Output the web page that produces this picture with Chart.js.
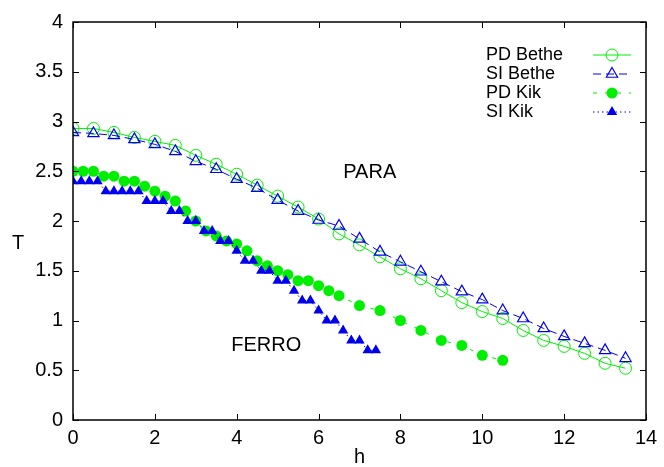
<!DOCTYPE html>
<html>
<head>
<meta charset="utf-8">
<script src="https://cdn.jsdelivr.net/npm/chart.js@4"></script>
<style>
  html, body { margin: 0; padding: 0; background: #fff; }
  #wrap { width: 664px; height: 467px; }
</style>
</head>
<body>
<div id="wrap"><canvas id="chart" width="664" height="467"></canvas></div>
<script>
// Bethe approximation, h every 0.5
const hBethe = [0, 0.5, 1, 1.5, 2, 2.5, 3, 3.5, 4, 4.5, 5, 5.5, 6, 6.5, 7, 7.5, 8, 8.5, 9, 9.5, 10, 10.5, 11, 11.5, 12, 12.5, 13, 13.5];
const pdBethe = [2.93, 2.93, 2.89, 2.84, 2.80, 2.76, 2.66, 2.57, 2.47, 2.36, 2.25, 2.14, 2.02, 1.87, 1.76, 1.64, 1.52, 1.42, 1.30, 1.18, 1.09, 1.02, 0.90, 0.80, 0.74, 0.67, 0.57, 0.52];
const siBethe = [2.89, 2.88, 2.86, 2.82, 2.77, 2.70, 2.60, 2.52, 2.42, 2.33, 2.21, 2.10, 2.01, 1.95, 1.82, 1.69, 1.59, 1.49, 1.39, 1.29, 1.21, 1.10, 1.02, 0.92, 0.84, 0.77, 0.70, 0.62];

// Kikuchi
const hPdKik = [0, 0.25, 0.5, 0.75, 1, 1.25, 1.5, 1.75, 2, 2.25, 2.5, 2.75, 3, 3.25, 3.5, 3.75, 4, 4.25, 4.5, 4.75, 5, 5.25, 5.5, 5.75, 6, 6.25, 6.5, 7, 7.5, 8, 8.5, 9, 9.5, 10, 10.5];
const pdKik = [2.5, 2.5, 2.5, 2.45, 2.45, 2.4, 2.4, 2.35, 2.3, 2.25, 2.2, 2.1, 2.0, 1.9, 1.85, 1.8, 1.77, 1.7, 1.6, 1.55, 1.5, 1.46, 1.4, 1.4, 1.35, 1.3, 1.25, 1.15, 1.1, 1.0, 0.9, 0.8, 0.75, 0.65, 0.6];
const hSiKik = [0, 0.2, 0.4, 0.6, 0.8, 1.0, 1.2, 1.4, 1.6, 1.8, 2.0, 2.2, 2.4, 2.6, 2.8, 3.0, 3.2, 3.4, 3.6, 3.8, 4.0, 4.2, 4.4, 4.6, 4.8, 5.0, 5.2, 5.4, 5.6, 5.8, 6.0, 6.2, 6.4, 6.6, 6.8, 7.0, 7.2, 7.4];
const siKik = [2.4, 2.4, 2.4, 2.4, 2.3, 2.3, 2.3, 2.3, 2.3, 2.2, 2.2, 2.2, 2.1, 2.1, 2.0, 2.0, 1.9, 1.9, 1.8, 1.8, 1.7, 1.6, 1.6, 1.5, 1.5, 1.4, 1.4, 1.3, 1.2, 1.2, 1.1, 1.0, 1.0, 0.9, 0.8, 0.8, 0.7, 0.7];

const xTicks = [0, 2, 4, 6, 8, 10, 12, 14];
const yTicks = [0, 0.5, 1, 1.5, 2, 2.5, 3, 3.5, 4];

const GREEN = '#00ee00';
const BLUE = '#0000ee';
const FONT = '"Liberation Sans", Arial, sans-serif';

const pts = (xs, ys) => xs.map((v, i) => ({ x: v, y: ys[i] }));

const datasets = [
  { label: 'PD Bethe', data: pts(hBethe, pdBethe), borderColor: GREEN, backgroundColor: 'rgba(0,0,0,0)',
    borderWidth: 1, pointStyle: 'circle', pointRadius: 6, pointBorderWidth: 1, order: 3 },
  { label: 'SI Bethe', data: pts(hBethe, siBethe), borderColor: BLUE, backgroundColor: 'rgba(0,0,0,0)',
    borderWidth: 1, borderDash: [8, 5], pointStyle: 'triangle', pointRadius: 6.5, pointBorderWidth: 1.2, order: 2 },
  { label: 'PD Kik', data: pts(hPdKik, pdKik), borderColor: GREEN, backgroundColor: GREEN,
    borderWidth: 1, borderDash: [4, 8], pointStyle: 'circle', pointRadius: 5.5, pointBorderWidth: 0, order: 1 },
  { label: 'SI Kik', data: pts(hSiKik, siKik), borderColor: BLUE, backgroundColor: BLUE,
    borderWidth: 1, borderDash: [1.5, 3], pointStyle: 'triangle', pointRadius: 6, pointBorderWidth: 0, order: 0 }
];

// frame, inward ticks, axis titles, region labels, legend
const decor = {
  id: 'decor',
  afterDatasetsDraw(chart) {
    const { ctx, chartArea: a, scales: { x, y } } = chart;
    ctx.save();
    ctx.strokeStyle = '#000';
    ctx.lineWidth = 1;
    ctx.setLineDash([]);
    ctx.beginPath();
    xTicks.forEach(v => {
      const px = Math.round(x.getPixelForValue(v)) + 0.5;
      ctx.moveTo(px, a.bottom); ctx.lineTo(px, a.bottom - 6);
      ctx.moveTo(px, a.top); ctx.lineTo(px, a.top + 6);
    });
    yTicks.forEach(v => {
      const py = Math.round(y.getPixelForValue(v)) + 0.5;
      ctx.moveTo(a.left, py); ctx.lineTo(a.left + 6, py);
      ctx.moveTo(a.right, py); ctx.lineTo(a.right - 6, py);
    });
    ctx.stroke();
    ctx.lineWidth = 1.5;
    ctx.strokeRect(a.left, a.top, a.right - a.left, a.bottom - a.top);

    ctx.fillStyle = '#000';
    ctx.font = '20px ' + FONT;
    ctx.textAlign = 'center';
    ctx.textBaseline = 'middle';
    ctx.fillText('h', (a.left + a.right) / 2, 457);
    ctx.fillText('T', 18, 243);
    ctx.fillText('PARA', x.getPixelForValue(7.25), y.getPixelForValue(2.49));
    ctx.fillText('FERRO', x.getPixelForValue(4.72), y.getPixelForValue(0.75));

    // legend
    ctx.font = '18px ' + FONT;
    ctx.textAlign = 'left';
    chart.data.datasets.forEach((ds, i) => {
      const ry = 55 + i * 19;
      ctx.fillStyle = '#000';
      ctx.fillText(ds.label, 486, ry);
      ctx.strokeStyle = ds.borderColor;
      ctx.lineWidth = ds.borderWidth;
      ctx.setLineDash(ds.borderDash || []);
      ctx.beginPath();
      ctx.moveTo(593, ry); ctx.lineTo(631, ry);
      ctx.stroke();
      ctx.setLineDash([]);
      ctx.fillStyle = ds.backgroundColor;
      ctx.lineWidth = ds.pointBorderWidth;
      Chart.helpers.drawPoint(ctx, { pointStyle: ds.pointStyle, radius: ds.pointRadius, rotation: 0,
        borderWidth: ds.pointBorderWidth }, 612, ry);
    });
    ctx.restore();
  }
};

new Chart(document.getElementById('chart'), {
  type: 'line',
  data: { datasets },
  options: {
    responsive: false,
    animation: false,
    layout: { padding: { left: 0, right: 18, top: 18, bottom: 0 } },
    plugins: { legend: { display: false }, tooltip: { enabled: false } },
    scales: {
      x: {
        type: 'linear', min: 0, max: 14,
        afterBuildTicks: s => { s.ticks = xTicks.map(v => ({ value: v })); },
        afterFit: s => { s.height = 47; },
        grid: { display: false, drawTicks: false },
        border: { display: false },
        ticks: { color: '#000', font: { family: FONT, size: 20 }, padding: 6, maxRotation: 0,
          callback: v => String(v) }
      },
      y: {
        type: 'linear', min: 0, max: 4,
        afterBuildTicks: s => { s.ticks = yTicks.map(v => ({ value: v })); },
        afterFit: s => { s.width = 73; },
        grid: { display: false, drawTicks: false },
        border: { display: false },
        ticks: { color: '#000', font: { family: FONT, size: 20 }, padding: 10,
          callback: v => String(v) }
      }
    }
  },
  plugins: [decor]
});
</script>
</body>
</html>
